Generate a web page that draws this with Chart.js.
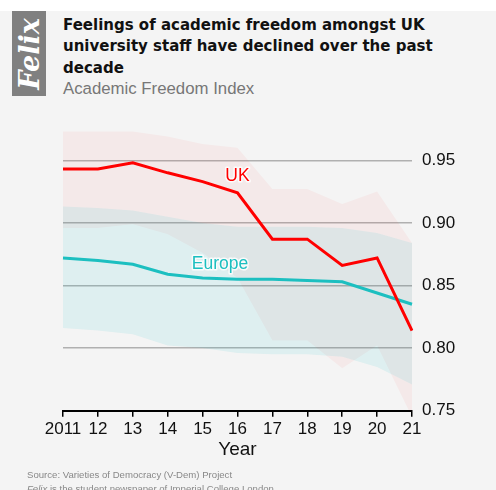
<!DOCTYPE html>
<html>
<head>
<meta charset="utf-8">
<script src="https://cdn.jsdelivr.net/npm/chart.js@4.4.0/dist/chart.umd.min.js"></script>
<style>
  html, body { margin: 0; padding: 0; background: #fff; }
  #wrap { position: relative; width: 496px; height: 490px; overflow: hidden; }
  #panel { position: absolute; left: 0; top: 11px; width: 496px; height: 479px; background: #f4f4f4; }
  #logo { position: absolute; left: 12px; top: 11px; width: 34px; height: 85px; background: #808080; }
  #logo span { position: absolute; left: 17px; top: 43px; transform: translate(-50%, -50%) rotate(-90deg);
    font: italic bold 27px "DejaVu Serif", serif; color: #fff; white-space: nowrap; }
  #title { position: absolute; left: 63px; top: 14.5px; width: 420px;
    font: bold 15px "DejaVu Sans", sans-serif; line-height: 21.7px; color: #111; }
  #sub { position: absolute; left: 63px; top: 78.5px; font: 16.8px "Liberation Sans", Arial, sans-serif; color: #777; }
  #foot { position: absolute; left: 27px; top: 468px; font: 9.6px "Liberation Sans", Arial, sans-serif;
    line-height: 14px; color: #888; }
  canvas { position: absolute; left: 0; top: 0; }
</style>
</head>
<body>
<div id="wrap">
  <div id="panel"></div>
  <div id="logo"><span>Felix</span></div>
  <div id="title">Feelings of academic freedom amongst UK university staff have declined over the past decade</div>
  <div id="sub">Academic Freedom Index</div>
  <canvas id="myChart" width="496" height="490"></canvas>
  <div id="foot">Source: Varieties of Democracy (V-Dem) Project<br><i>Felix</i> is the student newspaper of Imperial College London</div>
</div>
<script>
// tick labels along the x axis
var years = ['2011', '12', '13', '14', '15', '16', '17', '18', '19', '20', '21'];

// point estimates
var ukIndex     = [0.943, 0.943, 0.948, 0.940, 0.933, 0.924, 0.887, 0.887, 0.866, 0.872, 0.814];
var europeIndex = [0.872, 0.870, 0.867, 0.859, 0.856, 0.855, 0.855, 0.854, 0.853, 0.844, 0.835];

// confidence bands
var ukHigh     = [0.973, 0.973, 0.973, 0.969, 0.963, 0.960, 0.927, 0.927, 0.915, 0.925, 0.884];
var ukLow      = [0.896, 0.896, 0.899, 0.891, 0.876, 0.856, 0.806, 0.806, 0.784, 0.802, 0.745];
var europeHigh = [0.913, 0.912, 0.910, 0.905, 0.900, 0.897, 0.897, 0.897, 0.896, 0.892, 0.884];
var europeLow  = [0.816, 0.814, 0.811, 0.802, 0.800, 0.796, 0.795, 0.795, 0.793, 0.785, 0.771];

var yTicks = [0.75, 0.80, 0.85, 0.90, 0.95];

// where the series names sit (index along x, value on y)
var ukLabelAt = [5.0, 0.937];
var europeLabelAt = [4.5, 0.867];

var red = '#ff0000';
var teal = '#1cbfc0';
var font = '"Liberation Sans", Arial, sans-serif';

// writes "UK" and "Europe" next to their lines
var seriesLabels = {
    id: 'seriesLabels',
    afterDatasetsDraw: function(chart) {
        var c = chart.ctx, x = chart.scales.x, y = chart.scales.y;
        var items = [['UK', ukLabelAt, red], ['Europe', europeLabelAt, teal]];
        c.save();
        c.font = '17.5px ' + font;
        c.textAlign = 'center';
        c.textBaseline = 'middle';
        c.lineJoin = 'round';
        items.forEach(function(it) {
            var px = x.getPixelForValue(it[1][0]);
            var py = y.getPixelForValue(it[1][1]);
            c.strokeStyle = 'rgba(255,255,255,0.8)';
            c.lineWidth = 3;
            c.strokeText(it[0], px, py);
            c.fillStyle = it[2];
            c.fillText(it[0], px, py);
        });
        c.restore();
    }
};

var band = function(data, fill, color) {
    return {
        data: data,
        fill: fill,
        backgroundColor: color,
        borderWidth: 0,
        pointRadius: 0,
        order: 2,
        clip: false
    };
};

var ctx = document.getElementById('myChart').getContext('2d');
var chart = new Chart(ctx, {
    type: 'line',
    data: {
        labels: years,
        datasets: [
            { label: 'UK', data: ukIndex, borderColor: red, borderWidth: 3, pointRadius: 0, fill: false, order: 0 },
            { label: 'Europe', data: europeIndex, borderColor: teal, borderWidth: 3, pointRadius: 0, fill: false, order: 1 },
            band(europeHigh, '+1', 'rgba(0,191,196,0.09)'),
            band(europeLow, false, 'rgba(0,0,0,0)'),
            band(ukHigh, '+1', 'rgba(255,0,0,0.045)'),
            band(ukLow, false, 'rgba(0,0,0,0)')
        ]
    },
    options: {
        responsive: false,
        animation: false,
        layout: { padding: { left: 63, right: 0, top: 129, bottom: 28.6 } },
        plugins: { legend: { display: false }, tooltip: { enabled: false } },
        scales: {
            x: {
                offset: false,
                grid: { drawOnChartArea: false, tickLength: 6, color: '#000', lineWidth: 1.5 },
                border: { display: true, color: '#000', width: 2 },
                ticks: { color: '#111', font: { family: font, size: 17 }, padding: 2, maxRotation: 0, autoSkip: false },
                title: { display: true, text: 'Year', color: '#111', font: { family: font, size: 19 }, padding: 0 },
                afterFit: function(s) { s.height = 50.7; }
            },
            y: {
                position: 'right',
                min: 0.75,
                max: 0.975,
                afterBuildTicks: function(s) { s.ticks = yTicks.map(function(v) { return { value: v }; }); },
                grid: { color: '#b0b0b0', lineWidth: 1.5, drawTicks: false },
                border: { display: false },
                ticks: {
                    color: '#111', font: { family: font, size: 17 }, padding: 10,
                    callback: function(v) { return v.toFixed(2); }
                },
                afterFit: function(s) { s.width = 84; }
            }
        }
    },
    plugins: [seriesLabels]
});
</script>
</body>
</html>
